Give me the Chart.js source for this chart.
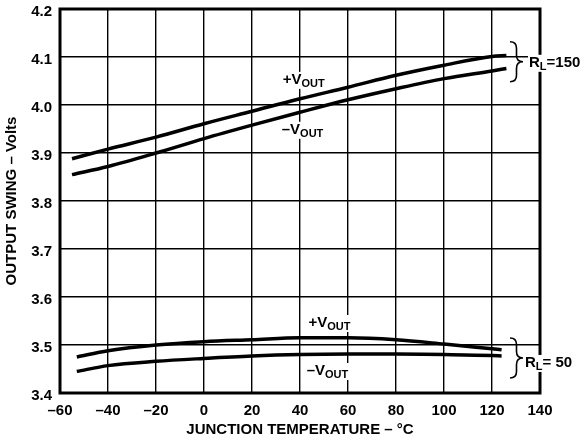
<!DOCTYPE html>
<html>
<head>
<meta charset="utf-8">
<title>Output Swing vs Junction Temperature</title>
<script src="https://cdn.jsdelivr.net/npm/chart.js@4/dist/chart.umd.min.js"></script>
<style>
  html, body { margin: 0; padding: 0; background: #fff; }
  #wrap { width: 584px; height: 441px; }
</style>
</head>
<body>
<div id="wrap"><canvas id="swing" width="584" height="441"></canvas></div>
<script>
// Junction temperature sample points (°C)
const temps150 = [-55, -40, -20, 0, 20, 40, 60, 80, 100, 120, 126];
const temps50 = [-53, -40, -20, 0, 20, 40, 60, 80, 100, 120, 124];

// Output swing (V), RL = 150
const posOut150 = [3.888, 3.908, 3.933, 3.961, 3.987, 4.013, 4.037, 4.062, 4.083, 4.101, 4.103];
const negOut150 = [3.855, 3.872, 3.900, 3.930, 3.958, 3.985, 4.011, 4.034, 4.055, 4.071, 4.076];

// Output swing (V), RL = 50
const posOut50 = [3.475, 3.488, 3.500, 3.507, 3.511, 3.515, 3.515, 3.511, 3.502, 3.492, 3.490];
const negOut50 = [3.445, 3.457, 3.466, 3.472, 3.477, 3.480, 3.481, 3.481, 3.480, 3.478, 3.477];

const xTicks = [-60, -40, -20, 0, 20, 40, 60, 80, 100, 120, 140];
const yTicks = [3.4, 3.5, 3.6, 3.7, 3.8, 3.9, 4.0, 4.1, 4.2];

const FONT = '"Liberation Sans", Arial, Helvetica, sans-serif';

function pts(xs, ys) {
  return xs.map((x, i) => ({ x: x, y: ys[i] }));
}

function curve(data) {
  return {
    data: data,
    borderColor: '#000',
    borderWidth: 3.5,
    pointRadius: 0,
    fill: false,
    cubicInterpolationMode: 'monotone'
  };
}

// curve labels with subscripts, anchored in data units (left edge, baseline)
const curveLabels = [
  { main: '+V', sub: 'OUT', t: 32.8, v: 4.044 },
  { main: '\u2013V', sub: 'OUT', t: 32.4, v: 3.940 },
  { main: '+V', sub: 'OUT', t: 43.5, v: 3.5375 },
  { main: '\u2013V', sub: 'OUT', t: 42.8, v: 3.4375 }
];

// load braces: center value, and the label that follows
const loadBraces = [
  { v: 4.090, text: '=150', labelX: 529, dy: 5 },
  { v: 3.473, text: '= 50', labelX: 525, dy: 9 }
];

function drawBrace(ctx, x, y1, y2, w) {
  const m = (y1 + y2) / 2;
  const h = w / 2;
  ctx.beginPath();
  ctx.moveTo(x, y1);
  ctx.quadraticCurveTo(x + h, y1, x + h, y1 + h);
  ctx.lineTo(x + h, m - h);
  ctx.quadraticCurveTo(x + h, m, x + w, m);
  ctx.quadraticCurveTo(x + h, m, x + h, m + h);
  ctx.lineTo(x + h, y2 - h);
  ctx.quadraticCurveTo(x + h, y2, x, y2);
  ctx.stroke();
}

function textWidth(ctx, main, sub, tail) {
  ctx.font = 'bold 15px ' + FONT;
  let w = ctx.measureText(main + (tail || '')).width;
  ctx.font = 'bold 11px ' + FONT;
  return w + ctx.measureText(sub).width;
}

function subText(ctx, x, y, main, sub) {
  ctx.font = 'bold 15px ' + FONT;
  ctx.fillText(main, x, y);
  const w = ctx.measureText(main).width;
  ctx.font = 'bold 11px ' + FONT;
  ctx.fillText(sub, x + w, y + 3);
  return x + w + ctx.measureText(sub).width;
}

// white patch so grid and frame lines break around a label
function knockOut(ctx, x, y, w) {
  ctx.fillStyle = '#fff';
  ctx.fillRect(x - 1, y - 12, w + 2, 17);
  ctx.fillStyle = '#000';
}

const framePlugin = {
  id: 'frame',
  afterDatasetsDraw(chart) {
    const { ctx, chartArea: a } = chart;
    ctx.save();
    ctx.strokeStyle = '#000';
    ctx.lineWidth = 3;
    ctx.strokeRect(a.left, a.top, a.right - a.left, a.bottom - a.top);
    ctx.restore();
  }
};

const notesPlugin = {
  id: 'notes',
  afterDraw(chart) {
    const { ctx } = chart;
    const xs = chart.scales.x;
    const ys = chart.scales.y;
    ctx.save();
    ctx.fillStyle = '#000';
    ctx.textBaseline = 'alphabetic';
    ctx.textAlign = 'left';

    curveLabels.forEach((l) => {
      const px = xs.getPixelForValue(l.t);
      const py = ys.getPixelForValue(l.v);
      knockOut(ctx, px, py, textWidth(ctx, l.main, l.sub));
      subText(ctx, px, py, l.main, l.sub);
    });

    ctx.strokeStyle = '#000';
    ctx.lineWidth = 1.6;
    loadBraces.forEach((b) => {
      const cy = ys.getPixelForValue(b.v);
      drawBrace(ctx, 510, cy - 20, cy + 20, 13);
      const by = cy + b.dy;
      knockOut(ctx, b.labelX, by, textWidth(ctx, 'R', 'L', b.text));
      const x = subText(ctx, b.labelX, by, 'R', 'L');
      ctx.font = 'bold 15px ' + FONT;
      ctx.fillText(b.text, x, by);
    });
    ctx.restore();
  }
};

new Chart(document.getElementById('swing').getContext('2d'), {
  type: 'line',
  data: {
    datasets: [
      curve(pts(temps150, posOut150)),
      curve(pts(temps150, negOut150)),
      curve(pts(temps50, posOut50)),
      curve(pts(temps50, negOut50))
    ]
  },
  options: {
    responsive: false,
    animation: false,
    devicePixelRatio: 1,
    layout: { padding: { top: 9, right: 44, left: 0, bottom: 0 } },
    plugins: { legend: { display: false }, tooltip: { enabled: false } },
    scales: {
      x: {
        type: 'linear',
        min: xTicks[0],
        max: xTicks[xTicks.length - 1],
        afterBuildTicks: (s) => { s.ticks = xTicks.map((v) => ({ value: v })); },
        afterFit: (s) => {
          s.height = 48;
          s.paddingLeft = 0;
          s.paddingRight = 0;
        },
        grid: { color: '#000', lineWidth: 1.4, drawTicks: false },
        border: { display: false },
        ticks: {
          padding: 9,
          color: '#000',
          font: { family: FONT, size: 15, weight: 'bold' },
          maxRotation: 0,
          callback: (v) => (v < 0 ? '\u2013' + Math.abs(v) : String(v))
        },
        title: {
          display: true,
          text: 'JUNCTION TEMPERATURE \u2013 \u00B0C',
          color: '#000',
          font: { family: FONT, size: 15, weight: 'bold' },
          padding: { top: 0, bottom: 2 }
        }
      },
      y: {
        type: 'linear',
        min: yTicks[0],
        max: yTicks[yTicks.length - 1],
        afterBuildTicks: (s) => { s.ticks = yTicks.map((v) => ({ value: v })); },
        afterFit: (s) => {
          s.width = 60;
          s.paddingTop = 0;
          s.paddingBottom = 0;
        },
        grid: { color: '#000', lineWidth: 1.4, drawTicks: false },
        border: { display: false },
        ticks: {
          padding: 8,
          labelOffset: 3,
          color: '#000',
          font: { family: FONT, size: 15, weight: 'bold' },
          callback: (v) => Number(v).toFixed(1)
        },
        title: {
          display: true,
          text: 'OUTPUT SWING \u2013 Volts',
          color: '#000',
          font: { family: FONT, size: 15, weight: 'bold' },
          padding: { top: 3, bottom: 0 }
        }
      }
    }
  },
  plugins: [framePlugin, notesPlugin]
});
</script>
</body>
</html>
